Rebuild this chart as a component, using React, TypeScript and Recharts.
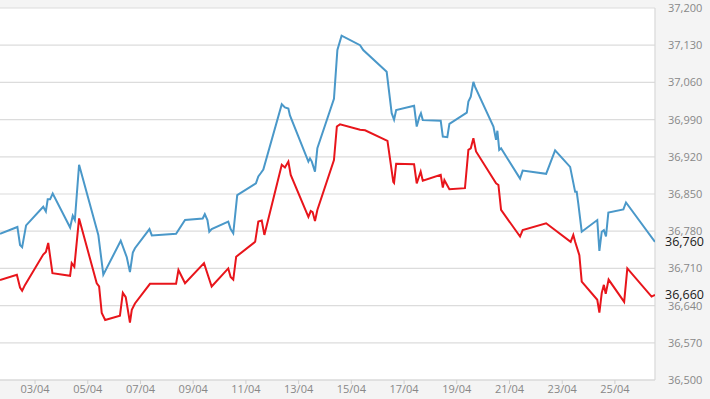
import React from "react";
import {
  LineChart,
  Line,
  XAxis,
  YAxis,
  CartesianGrid,
  ReferenceLine,
  LabelList,
} from "recharts";

// Time axis: day of month (April), fractional
const blueDays = [
  1.67, 2.33, 2.43, 2.51, 2.66, 3.31, 3.41, 3.48, 3.57, 3.67, 4.33, 4.43, 4.51, 4.67,
  5.4, 5.59, 6.25, 6.48, 6.6, 6.71, 6.79, 7.34, 7.43, 8.35, 8.69, 9.36, 9.44, 9.54,
  9.61, 9.7, 10.33, 10.42, 10.52, 10.67, 11.38, 11.47, 11.56, 11.66, 12.36, 12.48,
  12.61, 12.67, 13.37, 13.43, 13.5, 13.62, 13.71, 14.34, 14.47, 14.63, 15.33, 15.45,
  16.34, 16.53, 16.62, 16.7, 17.38, 17.48, 17.58, 17.64, 17.71, 18.39, 18.47, 18.64,
  18.72, 19.38, 19.44, 19.53, 19.63, 19.69, 20.39, 20.49, 20.54, 20.61, 20.68, 21.4,
  21.5, 22.39, 22.73, 23.3, 23.49, 23.55, 23.61, 23.74, 24.33, 24.41, 24.5, 24.58,
  24.66, 24.75, 25.32, 25.42, 26.52,
];
const blueValues = [
  36775, 36788, 36754, 36750, 36791, 36826, 36817, 36840, 36840, 36851, 36787, 36809, 36801, 36905,
  36773, 36698, 36762, 36731, 36703, 36740, 36748, 36784, 36772, 36775, 36801, 36804, 36812, 36801,
  36779, 36784, 36798, 36784, 36776, 36848, 36870, 36883, 36889, 36896, 37019, 37013,
  37011, 36998, 36911, 36917, 36911, 36892, 36936, 37029, 37121, 37148, 37130, 37121,
  37080, 37002, 36990, 37008, 37016, 36977, 36995, 37002, 36989, 36988, 36958, 36957,
  36982, 37003, 37024, 37033, 37061, 37052, 36977, 36952, 36969, 36933, 36936, 36879,
  36894, 36888, 36932, 36901, 36854, 36854, 36832, 36779, 36801, 36743, 36779, 36782,
  36770, 36815, 36821, 36834, 36760,
];

const redDays = [
  1.67, 2.31, 2.43, 2.51, 2.62, 3.31, 3.41, 3.5, 3.66, 4.33, 4.39, 4.49, 4.67, 5.34,
  5.43, 5.53, 5.66, 6.22, 6.33, 6.44, 6.5, 6.6, 6.67, 6.79, 7.36, 8.35, 8.44, 8.69,
  9.41, 9.7, 10.33, 10.42, 10.52, 10.63, 11.35, 11.47, 11.6, 11.7, 12.36, 12.48,
  12.61, 12.7, 13.37, 13.46, 13.53, 13.62, 13.71, 14.34, 14.45, 14.57, 15.33, 15.52,
  16.37, 16.49, 16.59, 16.62, 16.7, 17.38, 17.48, 17.63, 17.71, 18.39, 18.47, 18.53,
  18.72, 19.31, 19.44, 19.53, 19.63, 19.73, 20.49, 20.58, 20.68, 21.4, 21.5, 22.39,
  23.32, 23.42, 23.49, 23.65, 23.74, 24.33, 24.41, 24.5, 24.58, 24.65, 24.76, 25.35,
  25.47, 26.39, 26.52,
];
const redValues = [
  36688, 36698, 36674, 36668, 36679, 36736, 36741, 36758, 36701, 36696, 36720, 36713, 36804, 36682,
  36676, 36626, 36613, 36621, 36664, 36656, 36638, 36608, 36632, 36644, 36681, 36681, 36707, 36682,
  36720, 36676, 36710, 36694, 36689, 36732, 36760, 36798, 36800, 36773, 36905, 36900,
  36911, 36886, 36807, 36818, 36816, 36799, 36820, 36914, 36977, 36981, 36971, 36970,
  36950, 36908, 36873, 36871, 36907, 36906, 36870, 36892, 36875, 36886, 36862, 36876,
  36859, 36861, 36933, 36936, 36955, 36930, 36870, 36867, 36820, 36770, 36782, 36795,
  36760, 36773, 36760, 36735, 36685, 36651, 36627, 36664, 36679, 36662, 36689, 36647,
  36710, 36657, 36660,
];

const xTicks = [3, 5, 7, 9, 11, 13, 15, 17, 19, 21, 23, 25];
const yTicks = [36500, 36570, 36640, 36710, 36780, 36850, 36920, 36990, 37060, 37130, 37200];
const xDomain = [1.67, 26.52];
const yDomain = [36500, 37200];

const blueData = blueDays.map((t, i) => ({ t, v: blueValues[i] }));
const redData = redDays.map((t, i) => ({ t, v: redValues[i] }));

const fmtNum = (v: number) => v.toLocaleString("en-US");
const fmtDay = (d: number) => `${String(d).padStart(2, "0")}/04`;

const FONT = "'Open Sans', 'Liberation Sans', sans-serif";

const makeEndLabel = (len: number) => (props: any) => {
  const { x, y, index, value } = props;
  if (index !== len - 1) return null;
  return (
    <text
      x={x + 10}
      y={y}
      dy="0.36em"
      fill="#1a1a1a"
      fontSize={12.5}
      fontFamily={FONT}
      textAnchor="start"
    >
      {fmtNum(value)}
    </text>
  );
};

export default function App() {
  return (
    <div style={{ position: "absolute", left: 0, top: 0, width: 710, height: 399, background: "#f4f4f4" }}>
      <LineChart
        width={710}
        height={399}
        margin={{ top: 8, right: 0, bottom: 0, left: 0 }}
      >
        <CartesianGrid fill="#ffffff" vertical={false} stroke="#dcdcdc" strokeWidth={1.2} />
        <XAxis
          type="number"
          dataKey="t"
          domain={xDomain}
          allowDataOverflow
          ticks={xTicks}
          tickFormatter={fmtDay}
          height={19}
          axisLine={{ stroke: "#d8d8d8" }}
          tickLine={{ stroke: "#cfcfcf" }}
          tickSize={4}
          tickMargin={1}
          tick={{ fill: "#888", fontSize: 11, fontFamily: FONT }}
        />
        <YAxis
          orientation="right"
          type="number"
          domain={yDomain}
          ticks={yTicks}
          allowDataOverflow
          width={55}
          axisLine={false}
          tickLine={false}
          tickSize={6}
          tickMargin={7}
          tickFormatter={fmtNum}
          tick={{ fill: "#888", fontSize: 11, fontFamily: FONT, textAnchor: "start" }}
        />
        <ReferenceLine x={xDomain[1]} stroke="#d8d8d8" strokeWidth={1.2} ifOverflow="extendDomain" />
        <Line
          data={blueData}
          dataKey="v"
          stroke="#4a98c9"
          strokeWidth={2}
          dot={false}
          isAnimationActive={false}
          type="linear"
        >
          <LabelList dataKey="v" content={makeEndLabel(blueData.length)} />
        </Line>
        <Line
          data={redData}
          dataKey="v"
          stroke="#e8151b"
          strokeWidth={2}
          dot={false}
          isAnimationActive={false}
          type="linear"
        >
          <LabelList dataKey="v" content={makeEndLabel(redData.length)} />
        </Line>
      </LineChart>
    </div>
  );
}
